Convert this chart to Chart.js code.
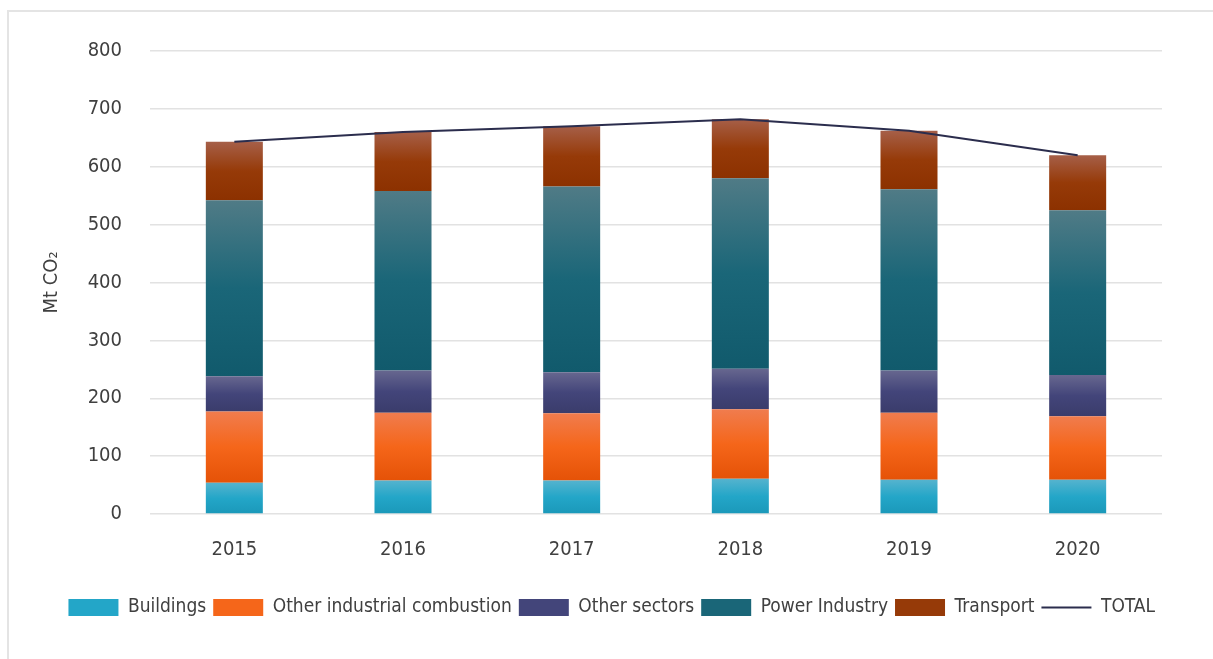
<!DOCTYPE html>
<html>
<head>
<meta charset="utf-8">
<script src="https://cdn.jsdelivr.net/npm/chart.js@4.4.1/dist/chart.umd.min.js"></script>
<style>
  html, body { margin: 0; padding: 0; background: #fff; overflow: hidden; }
  .panel { position: absolute; left: 7px; top: 10px; width: 1300px; height: 800px;
    border: 2px solid #e4e4e4; box-sizing: border-box; }
  #chart { position: absolute; left: 0; top: 0; }
</style>
</head>
<body>
<div class="panel"></div>
<canvas id="chart" width="1213" height="659"></canvas>
<script>
const years = ['2015', '2016', '2017', '2018', '2019', '2020']
const buildings = [54, 58, 58, 61, 59, 59]
const otherIndustrial = [123, 117, 116, 120, 116, 110]
const otherSectors = [61, 73, 71, 70, 73, 71]
const powerIndustry = [304, 310, 321, 329, 313, 285]
const transport = [101, 102, 104, 102, 101, 95]
const total = [643, 660, 670, 682, 662, 620]
const yTicks = [0, 100, 200, 300, 400, 500, 600, 700, 800]

const FONT = "'Liberation Sans Narrow', 'DejaVu Sans Condensed', 'Liberation Sans', sans-serif"
const TEXT = '#404040'

// light top -> dark bottom, like the original shading
const shades = {
  Buildings: ['#55b3ce', '#23a6c8', '#1b98b9'],
  'Other industrial combustion': ['#f07c4e', '#f5661a', '#e55207'],
  'Other sectors': ['#67678f', '#43457a', '#3a3c6b'],
  'Power Industry': ['#507b86', '#1a6678', '#115a6c'],
  Transport: ['#a65f48', '#963a08', '#8c3100']
}

const stackSeries = [buildings, otherIndustrial, otherSectors, powerIndustry, transport]

function gradientFor(name, si) {
  return ctx => {
    const c = shades[name]
    const chart = ctx.chart
    if (ctx.type !== 'data' || !chart.chartArea) return c[1]
    const i = ctx.dataIndex
    let base = 0
    for (let k = 0; k < si; k++) base += stackSeries[k][i]
    const y = chart.scales.y
    const top = y.getPixelForValue(base + stackSeries[si][i])
    const bot = y.getPixelForValue(base)
    if (!isFinite(top) || !isFinite(bot) || top === bot) return c[1]
    const g = chart.ctx.createLinearGradient(0, top, 0, bot)
    g.addColorStop(0, c[0])
    g.addColorStop(0.5, c[1])
    g.addColorStop(1, c[2])
    return g
  }
}

const names = ['Buildings', 'Other industrial combustion', 'Other sectors', 'Power Industry', 'Transport']

const datasets = names.map((n, si) => ({
  type: 'bar',
  label: n,
  data: stackSeries[si],
  backgroundColor: gradientFor(n, si),
  borderWidth: 0,
  stack: 'sectors',
  order: 1,
  barPercentage: 0.338,
  categoryPercentage: 1
}))
datasets.push({
  type: 'line',
  label: 'TOTAL',
  data: total,
  borderColor: '#2b2d4d',
  borderWidth: 2,
  pointRadius: 0,
  fill: false,
  tension: 0,
  stack: 'total',
  order: 0
})

new Chart(document.getElementById('chart').getContext('2d'), {
  data: { labels: years, datasets: datasets },
  options: {
    responsive: false,
    animation: false,
    devicePixelRatio: 1,
    layout: { padding: { left: 40, right: 51, top: 51, bottom: 32 } },
    plugins: {
      tooltip: { enabled: false },
      legend: {
        position: 'bottom',
        align: 'end',
        labels: {
          font: { family: FONT, size: 19 },
          color: TEXT,
          usePointStyle: true,
          pointStyleWidth: 50,
          boxHeight: 17,
          padding: 7,
          generateLabels: chart => chart.data.datasets.map((ds, i) => ({
            text: ds.label,
            datasetIndex: i,
            hidden: false,
            fontColor: TEXT,
            fillStyle: ds.type === 'line' ? 'rgba(0,0,0,0)' : shades[ds.label][1],
            strokeStyle: ds.type === 'line' ? '#2b2d4d' : 'rgba(0,0,0,0)',
            lineWidth: ds.type === 'line' ? 2 : 0,
            pointStyle: ds.type === 'line' ? 'line' : 'rect'
          }))
        }
      }
    },
    scales: {
      x: {
        grid: { display: false },
        border: { display: false },
        ticks: { font: { family: FONT, size: 20 }, color: TEXT, padding: 16 },
        afterFit: s => { s.height = 77 }
      },
      y: {
        stacked: true,
        min: 0,
        max: 800,
        afterBuildTicks: s => { s.ticks = yTicks.map(v => ({ value: v })) },
        grid: { color: '#e2e2e2', lineWidth: 1.5, drawTicks: false },
        border: { display: false },
        ticks: { font: { family: FONT, size: 20 }, color: TEXT, padding: 28 },
        title: {
          display: true,
          text: 'Mt CO\u2082',
          font: { family: FONT, size: 20 },
          color: TEXT,
          padding: { top: 0, bottom: 0 }
        },
        afterFit: s => { s.width = 110 }
      }
    }
  }
})
</script>
</body>
</html>
